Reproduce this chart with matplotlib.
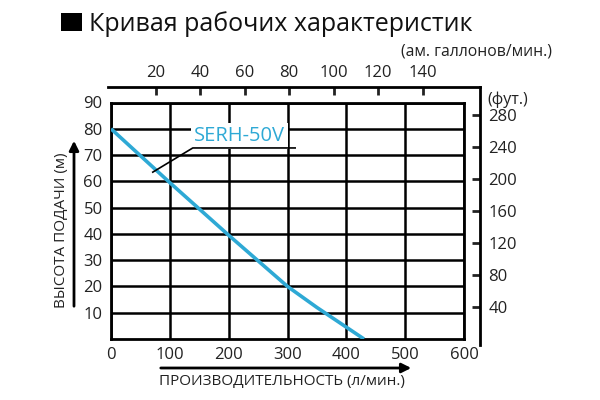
import matplotlib
matplotlib.use('Agg')
import matplotlib.pyplot as plt
from matplotlib.patches import Rectangle, FancyArrowPatch

# ---- data ----
flow_lpm = [0, 100, 200, 300, 350, 400, 430]
head_m = [80, 59.5, 39.5, 20, 12, 4.5, 0]
x_ticks = [0, 100, 200, 300, 400, 500, 600]
y_ticks = [10, 20, 30, 40, 50, 60, 70, 80, 90]
gal_ticks = [20, 40, 60, 80, 100, 120, 140]
ft_ticks = [40, 80, 120, 160, 200, 240, 280]
series_name = "SERH-50V"
title = "Кривая рабочих характеристик"
xlabel = "ПРОИЗВОДИТЕЛЬНОСТЬ (л/мин.)"
ylabel = "ВЫСОТА ПОДАЧИ (м)"
gal_label = "(ам. галлонов/мин.)"
ft_label = "(фут.)"

LPM_PER_GAL = 3.785
FT_PER_M = 3.2808

FONT = ['Open Sans', 'DejaVu Sans']
plt.rcParams['font.family'] = FONT
BLUE = '#2ea9d5'
TXT = '#222222'

W, H = 600, 400
fig = plt.figure(figsize=(W / 100, H / 100), dpi=100)


def box(l, t, r, b):
    return [l / W, 1 - b / H, (r - l) / W, (b - t) / H]


# main axes (pixels)
L, T, R, B = 111, 102.5, 464, 339
ax = fig.add_axes(box(L, T, R, B))
ax.set_xlim(0, 600)
ax.set_ylim(0, 90)
ax.set_xticks(x_ticks)
ax.set_yticks(y_ticks)
ax.tick_params(length=0, labelsize=12, pad=6, colors=TXT)
ax.grid(True, color='black', lw=1.8)
for s in ax.spines.values():
    s.set_linewidth(2)
ax.set_axisbelow(True)

ax.plot(flow_lpm, head_m, color=BLUE, lw=2.6, zorder=3, solid_capstyle='butt')

# annotation
ax.text(141, 73.4, series_name, color=BLUE, fontsize=14.5, ha='left', va='bottom',
        zorder=4, bbox=dict(facecolor='white', edgecolor='none', pad=2.0))
ax.plot([71, 139, 313], [63.5, 72.7, 72.7], color='black', lw=1.2, zorder=5)

# outer frame axes: gallons (top) and feet (right)
fL, fT, fR, fB = 108, 87, 480, 345
ax2 = fig.add_axes(box(fL, fT, fR, fB), zorder=-1)
gpp = (600 / LPM_PER_GAL) / (R - L)
fpp = (90 * FT_PER_M) / (B - T)
ax2.set_xlim((fL - L) * gpp, (fR - L) * gpp)
ax2.set_ylim((B - fB) * fpp, (B - fT) * fpp)
ax2.patch.set_visible(False)
ax2.spines['left'].set_visible(False)
ax2.spines['bottom'].set_visible(False)
ax2.spines['top'].set_linewidth(2)
ax2.spines['right'].set_linewidth(2)
ax2.xaxis.tick_top()
ax2.yaxis.tick_right()
ax2.set_xticks(gal_ticks)
ax2.set_yticks(ft_ticks)
ax2.tick_params(direction='in', length=6, width=2, labelsize=12, colors=TXT)
ax2.tick_params(axis='x', pad=4)
ax2.tick_params(axis='y', pad=6)

fig.text(552 / W, 1 - 52 / H, gal_label, ha='right', va='center', fontsize=11.3, color=TXT)
fig.text(487 / W, 1 - 100 / H, ft_label, ha='left', va='center', fontsize=11.5, color=TXT)

# title
fig.add_artist(Rectangle((61 / W, 1 - 31 / H), 21 / W, 18 / H, transform=fig.transFigure,
                         facecolor='black', edgecolor='none'))
fig.text(89 / W, 1 - 31 / H, title, ha='left', va='baseline', fontsize=18, color='#111111')

# axis labels with arrows
fig.text(62 / W, 1 - 230 / H, ylabel, rotation=90, ha='center', va='center', fontsize=11, color=TXT)
fig.text(282 / W, 1 - 382 / H, xlabel, ha='center', va='center', fontsize=11, color=TXT)
fig.add_artist(FancyArrowPatch((74 / W, 1 - 309 / H), (74 / W, 1 - 138 / H),
               transform=fig.transFigure, arrowstyle='-|>', lw=2, color='black', mutation_scale=14))
fig.add_artist(FancyArrowPatch((158 / W, 1 - 368 / H), (414 / W, 1 - 368 / H),
               transform=fig.transFigure, arrowstyle='-|>', lw=2, color='black', mutation_scale=14))

fig.savefig('out.png', dpi=100, facecolor='white')
